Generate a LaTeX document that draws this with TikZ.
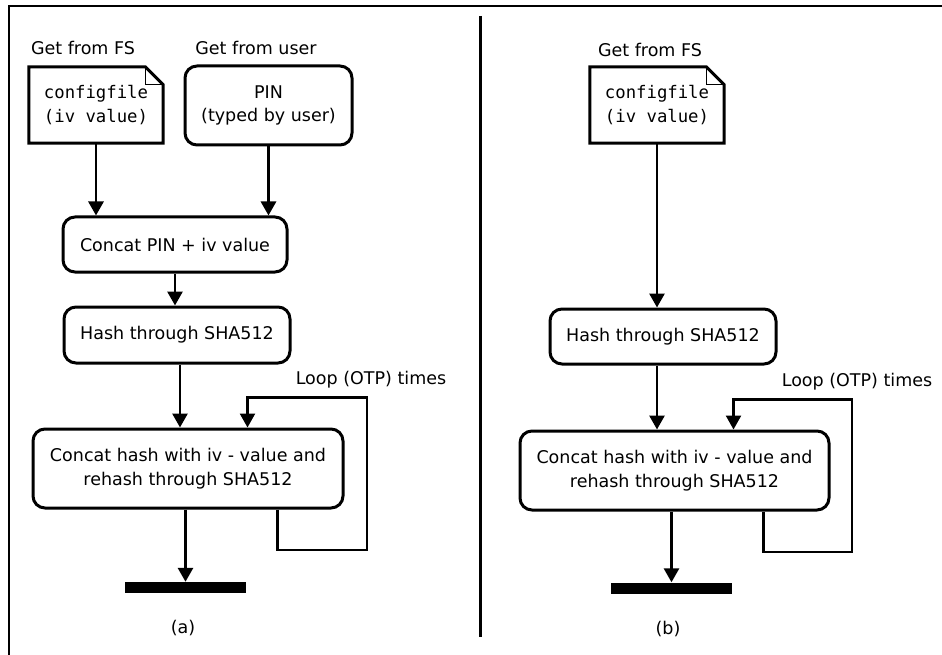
\documentclass[tikz,border=0pt]{standalone}
\usepackage{fontspec}
\setmainfont{DejaVu Sans}
\setmonofont{DejaVu Sans Mono}
\usetikzlibrary{arrows.meta,positioning,calc}

\tikzset{
  txt/.style={font=\fontsize{17.5pt}{23.5pt}\selectfont, inner sep=0pt},
  stepbox/.style={txt, draw, line width=3pt, rounded corners=12pt, align=center},
  notebox/.style={txt, font=\fontsize{17.3pt}{24pt}\selectfont\ttfamily, align=center, minimum width=134pt, minimum height=76pt},
  noteline/.style={line width=3pt},
  notefold/.style={line width=1pt},
  barbox/.style={fill=black, inner sep=0pt, minimum width=121pt, minimum height=11pt},
  arr/.style={line width=2.8pt, -{Triangle[width=15pt,length=14pt]}},
  loopline/.style={line width=2.4pt, -{Triangle[width=15pt,length=14pt]}},
}

\begin{document}
\begin{tikzpicture}[x=1pt,y=-1pt]
  \useasboundingbox (0,0) rectangle (942,655);

  % frame and divider
  \draw[line width=2.4pt] (9,655) -- (9,6) -- (942,6);
  \draw[line width=3pt] (480,16) -- (480,637);

  % ---- (a) ----
  \node[txt] (lblFSa) at (83,48) {Get from FS};
  \node[txt] (lblUsera) at (256,48) {Get from user};
  \node[notebox] (cfgA) at (96,105) {configfile\\(iv value)};
  \draw[noteline] (cfgA.north west) -- ([xshift=-18pt]cfgA.north east) -- ([yshift=-18pt]cfgA.north east) -- (cfgA.south east) -- (cfgA.south west) -- cycle;
  \draw[notefold] ([xshift=-18pt]cfgA.north east) |- ([yshift=-18pt]cfgA.north east);
  \node[stepbox, minimum width=167pt, minimum height=79pt] (pinA) at (268.5,105.5) {PIN\\(typed by user)};
  \node[stepbox, minimum width=224pt, minimum height=55pt] (catA) at (175,244.5) {Concat PIN + iv value};
  \node[stepbox, minimum width=226pt, minimum height=56pt] (hashA) at (177,335) {Hash through SHA512};
  \node[stepbox, minimum width=310pt, minimum height=79pt] (rehashA) at (188,468.5) {Concat hash with iv - value and\\rehash through SHA512};
  \node[barbox] (barA) at (185.5,587.5) {};
  \node[txt] (lblLoopa) at (371,380) {Loop (OTP) times};
  \node[txt] (capA) at (183,628) {(a)};
  \coordinate (turnA) at (367,550);

  \draw[arr] (cfgA.south) -- (cfgA.south |- catA.north);
  \draw[arr] (pinA.south) -- (pinA.south |- catA.north);
  \draw[arr] (catA.south) -- (catA.south |- hashA.north);
  \draw[arr] ([xshift=3pt]hashA.south) -- ([xshift=3pt]hashA.south |- rehashA.north);
  \draw[arr] (barA.north |- rehashA.south) -- (barA.north);
  \draw[loopline] ([xshift=-67pt]rehashA.south east) |- (turnA) |- ([xshift=-97pt,yshift=30pt]rehashA.north east) -- ([xshift=-97pt]rehashA.north east);

  % ---- (b) ----
  \node[txt] (lblFSb) at (650,50) {Get from FS};
  \node[notebox] (cfgB) at (657,105) {configfile\\(iv value)};
  \draw[noteline] (cfgB.north west) -- ([xshift=-18pt]cfgB.north east) -- ([yshift=-18pt]cfgB.north east) -- (cfgB.south east) -- (cfgB.south west) -- cycle;
  \draw[notefold] ([xshift=-18pt]cfgB.north east) |- ([yshift=-18pt]cfgB.north east);
  \node[stepbox, minimum width=226pt, minimum height=55pt] (hashB) at (663,336.5) {Hash through SHA512};
  \node[stepbox, minimum width=309pt, minimum height=79pt] (rehashB) at (674.5,470.5) {Concat hash with iv - value and\\rehash through SHA512};
  \node[barbox] (barB) at (671.5,588) {};
  \node[txt] (lblLoopb) at (857,382) {Loop (OTP) times};
  \node[txt] (capB) at (668,629) {(b)};
  \coordinate (turnB) at (852,552);

  \draw[arr] (cfgB.south) -- (cfgB.south |- hashB.north);
  \draw[arr] (cfgB.south |- hashB.south) -- (cfgB.south |- rehashB.north);
  \draw[arr] (barB.north |- rehashB.south) -- (barB.north);
  \draw[loopline] ([xshift=-67pt]rehashB.south east) |- (turnB) |- ([xshift=-97pt,yshift=30pt]rehashB.north east) -- ([xshift=-97pt]rehashB.north east);
\end{tikzpicture}
\end{document}
